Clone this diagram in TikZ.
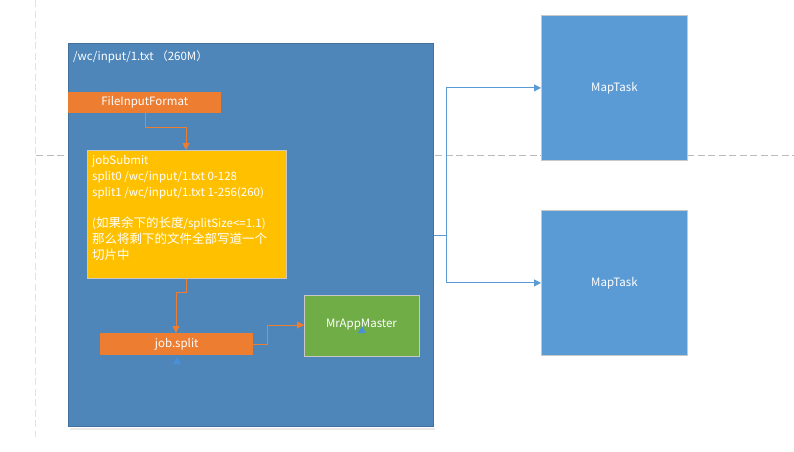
\documentclass[tikz,border=0pt]{standalone}
\usepackage{fontspec}
\setmainfont{Noto Sans CJK SC}
\usetikzlibrary{arrows.meta}
\definecolor{contblue}{HTML}{4E86BA}
\definecolor{contedge}{HTML}{41719C}
\definecolor{orng}{HTML}{ED7D31}
\definecolor{ylw}{HTML}{FFC000}
\definecolor{grn}{HTML}{70AD47}
\definecolor{mapblue}{HTML}{5B9BD5}
\definecolor{edgegray}{HTML}{C8C8C8}
\definecolor{dashgray}{HTML}{BBBBBB}
\definecolor{faintgray}{HTML}{E2E2E2}
\definecolor{tri}{HTML}{4A90D9}
\newcommand{\lbl}{\fontsize{11.5}{13}\selectfont}
\newcommand{\zh}{\fontsize{12.5}{15.7}\selectfont}
\tikzset{
  box/.style={draw=edgegray, line width=0.8pt, inner sep=0pt, text=white},
  orangebox/.style={fill=orng, draw=none, inner sep=0pt, text=white, font=\lbl},
  oline/.style={draw=orng, line width=1pt, -{Triangle[length=7pt,width=7pt]}},
  bline/.style={draw=mapblue, line width=1pt, -{Triangle[length=7pt,width=7pt]}},
  guide/.style={draw=dashgray, line width=0.8pt, dash pattern=on 7pt off 3.5pt},
  vguide/.style={draw=faintgray, line width=0.8pt, dash pattern=on 7pt off 3.5pt},
  marker/.style={fill=tri, draw=none}
}
\begin{document}
\begin{tikzpicture}[x=1pt,y=-1pt]
\useasboundingbox (0,0) rectangle (794,451);
% guide lines
\draw[vguide] (35,0) -- (35,437);
\draw[guide] (36,155) -- (794,155);
% container
\fill[black!8] (70,428) rectangle (435,430);
\node[draw=contedge, fill=contblue, line width=0.8pt, minimum width=365pt, minimum height=383pt, anchor=north west, inner sep=0pt] (cont) at (68,43) {};
\node[anchor=west, text=white, font=\lbl, inner sep=0pt] (title) at (73,57) {/wc/input/1.txt （260M）};
% FileInputFormat
\node[orangebox, minimum width=153pt, minimum height=21pt, anchor=north west] (fif) at (68,92) {FileInputFormat};
% jobSubmit
\node[box, fill=ylw, minimum width=199pt, minimum height=128pt, anchor=north west] (js) at (87,150) {};
\node[anchor=north west, align=left, text=white, inner sep=0pt, font=\fontsize{11.5}{15.7}\selectfont] (jstext) at (92,155.5) {jobSubmit\\split0 /wc/input/1.txt 0-128\\split1 /wc/input/1.txt 1-256(260)\\[15.7pt]({\zh 如果余下的长度}/splitSize<=1.1)\\{\zh 那么将剩下的文件全部写道一个}\\{\zh 切片中}};
% job.split
\node[orangebox, minimum width=153pt, minimum height=22pt, anchor=north west] (jsplit) at (100,333) {job.split};
% MrAppMaster
\node[box, fill=grn, minimum width=115pt, minimum height=61pt, anchor=north west] (mram) at (304,295) {};
\node[text=white, font=\lbl, inner sep=0pt] (mramtext) at (361.5,325) {MrAppMaster};
% MapTasks
\node[box, fill=mapblue, minimum width=146pt, minimum height=145pt, anchor=north west, font=\lbl] (mt1) at (541,15) {MapTask};
\node[box, fill=mapblue, minimum width=146pt, minimum height=145pt, anchor=north west, font=\lbl] (mt2) at (541,210) {MapTask};
% markers
\fill[marker] (173,364) -- (181,364) -- (177,357) -- cycle;
\fill[marker] (358,333) -- (366,333) -- (362,326) -- cycle;
% orange connectors
\coordinate (a1) at (145,127);
\coordinate (a2) at (186,127);
\draw[oline] (fif.south -| a1) -- (a1) -- (a2) -- (js.north -| a2);
\coordinate (b1) at (186,292);
\coordinate (b2) at (176,292);
\draw[oline] (js.south -| b1) -- (b1) -- (b2) -- (jsplit.north -| b2);
\coordinate (c1) at (267,344);
\coordinate (c2) at (267,325);
\draw[oline] (jsplit.east |- c1) -- (c1) -- (c2) -- (mram.west |- c2);
% blue connectors
\coordinate (j) at (446,235);
\draw[draw=mapblue, line width=1pt] (cont.east |- j) -- (j);
\draw[bline] (j) -- (j |- mt1.west) -- (mt1.west);
\draw[bline] (j) -- (j |- mt2.west) -- (mt2.west);
\end{tikzpicture}
\end{document}
